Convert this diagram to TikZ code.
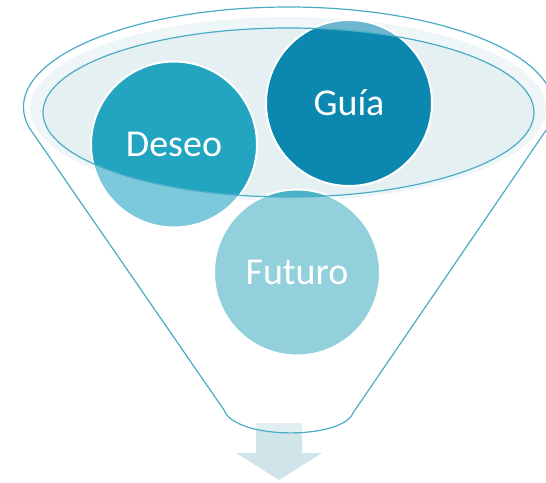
\documentclass[tikz,border=0pt]{standalone}
\usepackage{fontspec}
\setmainfont{Carlito}
\definecolor{funnelline}{HTML}{4BACC6}
\definecolor{funnelfill}{HTML}{E5F0F3}
\definecolor{deseoblue}{HTML}{23A5C2}
\definecolor{guiablue}{HTML}{0B87B0}
\definecolor{futuroblue}{HTML}{4AB2C6}
\definecolor{arrowblue}{HTML}{D0E5EA}
\tikzset{
  ball/.style={circle, draw=white, line width=2pt, minimum size=166pt, inner sep=0pt,
    text=white, font=\fontsize{38}{40}\selectfont}
}
\begin{document}
\begin{tikzpicture}[x=1pt, y=1pt]
  \useasboundingbox (0,0) rectangle (546,482);
  \clip (0,0) rectangle (546,482);
  % Mouth of the funnel
  \fill[funnelfill] (288,373) ellipse [x radius=258, y radius=92];
  % Arrow below the funnel
  \fill[arrowblue] (256,59) -- (302,59) -- (302,29) -- (322,29) -- (279,2)
    -- (236,29) -- (256,29) -- cycle;
  % Circles
  \node[ball, fill=deseoblue] (deseo) at (174,337.5) {Deseo};
  \node[ball, fill=guiablue] (guia) at (349,379) {Guía};
  \node[ball, fill=futuroblue] (futuro) at (297,209.5) {Futuro};
  % Funnel body, with the inner ellipse left open
  \path[fill=white, fill opacity=0.4, even odd rule, draw=funnelline, line width=1.2pt]
    (224,72) -- (29.3,354.2) arc[start angle=192, end angle=-12, x radius=265, y radius=100]
    -- (353,69) .. controls (342,42) and (235,42) .. (224,72) -- cycle
    (288.5,369.5) ellipse [x radius=245.5, y radius=84.5];
\end{tikzpicture}
\end{document}
